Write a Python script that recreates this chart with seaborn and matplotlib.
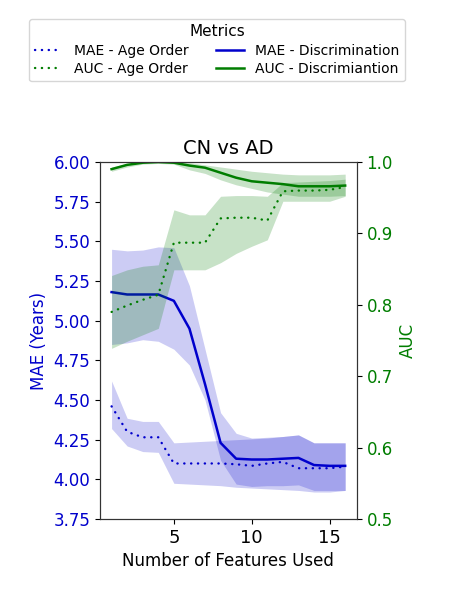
import numpy as np
import pandas as pd
import matplotlib
matplotlib.use("Agg")
import matplotlib.pyplot as plt
from matplotlib.lines import Line2D
import seaborn as sns

# ---- data ----
n_features = list(range(1, 17))

mae_age = [4.46, 4.30, 4.265, 4.265, 4.10, 4.10, 4.10, 4.10, 4.095, 4.085, 4.10, 4.11, 4.07, 4.07, 4.07, 4.08]
mae_age_lo = [4.32, 4.21, 4.175, 4.17, 3.975, 3.97, 3.965, 3.96, 3.95, 3.945, 3.94, 3.935, 3.93, 3.92, 3.92, 3.93]
mae_age_hi = [4.62, 4.385, 4.365, 4.365, 4.23, 4.235, 4.24, 4.245, 4.25, 4.255, 4.26, 4.27, 4.28, 4.23, 4.23, 4.23]

mae_disc = [5.18, 5.165, 5.165, 5.165, 5.125, 4.95, 4.60, 4.23, 4.13, 4.125, 4.125, 4.13, 4.135, 4.09, 4.085, 4.085]
mae_disc_lo = [4.85, 4.86, 4.88, 4.87, 4.82, 4.72, 4.50, 4.12, 3.97, 3.955, 3.96, 3.96, 3.965, 3.93, 3.93, 3.93]
mae_disc_hi = [5.45, 5.44, 5.445, 5.465, 5.46, 5.22, 4.82, 4.42, 4.29, 4.26, 4.265, 4.27, 4.28, 4.23, 4.23, 4.23]

auc_age = [0.790, 0.799, 0.807, 0.814, 0.887, 0.887, 0.887, 0.921, 0.922, 0.922, 0.918, 0.959, 0.960, 0.960, 0.961, 0.965]
auc_age_lo = [0.739, 0.749, 0.758, 0.767, 0.849, 0.849, 0.849, 0.859, 0.872, 0.882, 0.891, 0.945, 0.945, 0.945, 0.945, 0.952]
auc_age_hi = [0.841, 0.849, 0.854, 0.856, 0.933, 0.926, 0.926, 0.952, 0.953, 0.953, 0.952, 0.971, 0.972, 0.973, 0.974, 0.976]

auc_disc = [0.990, 0.996, 0.999, 1.0, 0.999, 0.995, 0.992, 0.985, 0.978, 0.973, 0.971, 0.969, 0.966, 0.966, 0.966, 0.967]
auc_disc_lo = [0.987, 0.993, 0.997, 0.998, 0.997, 0.989, 0.984, 0.975, 0.968, 0.963, 0.958, 0.955, 0.952, 0.952, 0.952, 0.953]
auc_disc_hi = [0.993, 0.998, 1.0, 1.0, 1.0, 0.999, 0.996, 0.993, 0.990, 0.987, 0.985, 0.983, 0.982, 0.982, 0.982, 0.983]

mae_ticks = [3.75, 4.00, 4.25, 4.50, 4.75, 5.00, 5.25, 5.50, 5.75, 6.00]
auc_ticks = [0.5, 0.6, 0.7, 0.8, 0.9, 1.0]
x_ticks = [5, 10, 15]

legend_labels = ["MAE - Age Order", "AUC - Age Order", "MAE - Discrimination", "AUC - Discrimiantion"]

BLUE = "#0000cc"
GREEN = "#007d00"
DOT = (0, (0.1, 2.8))


def long_frame(center, lo, hi):
    # three rows per x: lower bound, centre, upper bound
    xs = n_features * 3
    ys = list(lo) + list(center) + list(hi)
    return pd.DataFrame({"x": xs, "y": ys})


fig = plt.figure(figsize=(4.5, 6), dpi=100)
ax = fig.add_axes([0.222, 0.135, 0.571, 0.595])
ax2 = ax.twinx()

kw = dict(x="x", y="y", estimator="median", errorbar=("pi", 100))

sns.lineplot(data=long_frame(mae_age, mae_age_lo, mae_age_hi), ax=ax, color=BLUE,
             linestyle=DOT, linewidth=1.7, dash_capstyle="round",
             err_kws={"alpha": 0.2, "linewidth": 0}, **kw)
sns.lineplot(data=long_frame(mae_disc, mae_disc_lo, mae_disc_hi), ax=ax, color=BLUE,
             linestyle="-", linewidth=1.8, err_kws={"alpha": 0.2, "linewidth": 0}, **kw)
sns.lineplot(data=long_frame(auc_age, auc_age_lo, auc_age_hi), ax=ax2, color=GREEN,
             linestyle=DOT, linewidth=1.7, dash_capstyle="round",
             err_kws={"alpha": 0.22, "linewidth": 0}, **kw)
sns.lineplot(data=long_frame(auc_disc, auc_disc_lo, auc_disc_hi), ax=ax2, color=GREEN,
             linestyle="-", linewidth=1.8, err_kws={"alpha": 0.22, "linewidth": 0}, **kw)

ax.set_xlim(0.25, 16.75)
ax.set_ylim(3.75, 6.0)
ax2.set_ylim(0.5, 1.0)
ax.set_xticks(x_ticks)
ax.set_yticks(mae_ticks)
ax.set_yticklabels([f"{t:.2f}" for t in mae_ticks])
ax2.set_yticks(auc_ticks)
ax2.set_yticklabels([f"{t:.1f}" for t in auc_ticks])

ax.tick_params(axis="x", labelsize=13)
ax.tick_params(axis="y", labelsize=12, labelcolor=BLUE)
ax2.tick_params(axis="y", labelsize=12, labelcolor=GREEN)

ax.set_xlabel("Number of Features Used", fontsize=12)
ax.set_ylabel("MAE (Years)", fontsize=12, color=BLUE)
ax2.set_ylabel("AUC", fontsize=12, color=GREEN)
ax.set_title("CN vs AD", fontsize=14)

for a in (ax, ax2):
    for s in a.spines.values():
        s.set_color("#333333")

handles = [
    Line2D([], [], color=BLUE, linestyle=DOT, linewidth=1.7, dash_capstyle="round"),
    Line2D([], [], color=GREEN, linestyle=DOT, linewidth=1.7, dash_capstyle="round"),
    Line2D([], [], color=BLUE, linestyle="-", linewidth=1.8),
    Line2D([], [], color=GREEN, linestyle="-", linewidth=1.8),
]
fig.legend(handles, legend_labels, title="Metrics", ncol=2, loc="upper center",
           bbox_to_anchor=(0.482, 0.98), fontsize=10, title_fontsize=11,
           columnspacing=2.0, handletextpad=0.8, borderpad=0.4, labelspacing=0.3)

fig.savefig("out.png", dpi=100)
